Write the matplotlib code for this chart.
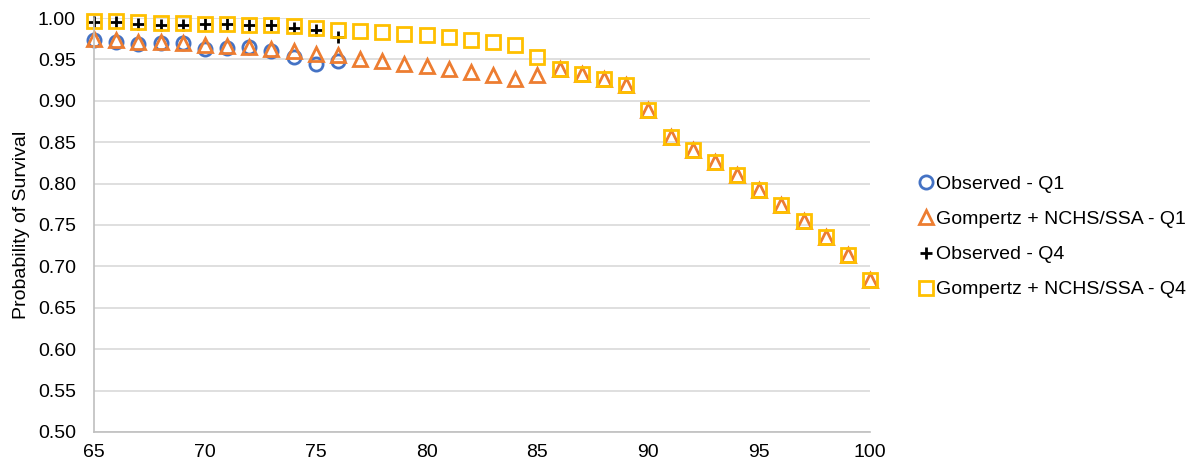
import matplotlib.pyplot as plt

plt.rcParams['font.family'] = ['Liberation Sans', 'DejaVu Sans']

ages_obs = list(range(65, 77))
ages_fit = list(range(65, 101))

obs_q1 = [0.974, 0.971, 0.969, 0.970, 0.970, 0.962, 0.964, 0.965, 0.960, 0.953, 0.945, 0.948]
gomp_q1 = [0.975, 0.973, 0.971, 0.971, 0.970, 0.967, 0.966, 0.965, 0.962, 0.960, 0.957, 0.955,
           0.951, 0.948, 0.945, 0.942, 0.939, 0.935, 0.931, 0.926, 0.931,
           0.938, 0.932, 0.926, 0.919, 0.889, 0.856, 0.841, 0.826, 0.810, 0.792,
           0.774, 0.755, 0.735, 0.714, 0.684]
obs_q4 = [0.995, 0.995, 0.993, 0.992, 0.992, 0.993, 0.993, 0.992, 0.992, 0.988, 0.985, 0.977]
gomp_q4 = [0.996, 0.996, 0.995, 0.994, 0.994, 0.993, 0.993, 0.992, 0.991, 0.990, 0.988, 0.985,
           0.984, 0.983, 0.981, 0.979, 0.977, 0.974, 0.971, 0.967, 0.953,
           0.938, 0.932, 0.926, 0.919, 0.889, 0.856, 0.841, 0.826, 0.810, 0.792,
           0.774, 0.755, 0.735, 0.714, 0.684]

fig = plt.figure(figsize=(11.95, 4.68), dpi=100)
ax = fig.add_axes([0.0787, 0.077, 0.6494, 0.8845])

ax.plot(ages_obs, obs_q1, 'o', mfc='none', mec='#4472C4', mew=2, ms=9.5, label='Observed - Q1', clip_on=False)
ax.plot(ages_fit, gomp_q1, '^', mfc='none', mec='#ED7D31', mew=2, ms=9.5, label='Gompertz + NCHS/SSA - Q1', clip_on=False)
ax.plot(ages_obs, obs_q4, '+', color='black', mew=2, ms=8.5, label='Observed - Q4', clip_on=False)
ax.plot(ages_fit, gomp_q4, 's', mfc='none', mec='#FFC000', mew=2, ms=9.5, label='Gompertz + NCHS/SSA - Q4', clip_on=False)

ax.set_xlim(65, 100)
ax.set_ylim(0.5, 1.0)
ax.set_xticks(range(65, 101, 5))
ax.set_yticks([0.5 + 0.05 * i for i in range(11)])
ax.set_yticklabels([f'{0.5 + 0.05 * i:.2f}' for i in range(11)])
ax.tick_params(labelsize=14, length=0, colors='#000000')
ax.tick_params(axis='x', pad=9)
ax.tick_params(axis='y', pad=13)
ax.grid(axis='y', color='#D9D9D9', lw=1.2)
ax.set_axisbelow(True)
for s in ['top', 'right']:
    ax.spines[s].set_visible(False)
for s in ['left', 'bottom']:
    ax.spines[s].set_color('#BFBFBF')
    ax.spines[s].set_linewidth(1.2)
ax.set_ylabel('Probability of Survival', fontsize=14, labelpad=6)

ax.legend(loc='center left', bbox_to_anchor=(1.055, 0.471), frameon=False, fontsize=14,
          handlelength=0.6, handletextpad=0.2, labelspacing=0.9, borderaxespad=0)

fig.savefig('out.png', dpi=100)
